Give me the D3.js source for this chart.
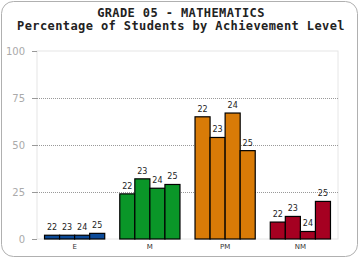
<!DOCTYPE html>
<html>
<head>
<meta charset="utf-8">
<script src="https://cdn.jsdelivr.net/npm/d3@7"></script>
<style>
  body { margin: 0; background: #fff; }
  svg { display: block; }
</style>
</head>
<body>
<svg width="360" height="260"></svg>
<script>
var levels = ['E', 'M', 'PM', 'NM'];
var years = ['22', '23', '24', '25'];
var levelColors = ['#0b4a98', '#0a9628', '#d97b07', '#a50021'];
var valuesE = [2, 2, 2, 3];
var valuesM = [24, 32, 27, 29];
var valuesPM = [65, 54, 67, 47];
var valuesNM = [9, 12, 4, 20];
var yTicks = [0, 25, 50, 75, 100];

var allValues = [valuesE, valuesM, valuesPM, valuesNM];

var svg = d3.select('svg'),
  margin = {top: 51, right: 22, bottom: 21, left: 37},
  width = svg.attr('width') - margin.left - margin.right,
  height = svg.attr('height') - margin.top - margin.bottom;

// frame
svg
  .append('rect')
  .attr('x', 1.5)
  .attr('y', 1.5)
  .attr('width', 356)
  .attr('height', 255)
  .attr('rx', 12)
  .attr('fill', '#fff')
  .attr('stroke', '#b0b0b0');

var titleFont = 'bold 12px "DejaVu Sans Mono", monospace';

svg
  .append('text')
  .attr('x', 181)
  .attr('y', 17)
  .attr('text-anchor', 'middle')
  .style('font', titleFont)
  .style('letter-spacing', '0.4px')
  .attr('fill', '#222')
  .text('GRADE 05 - MATHEMATICS');

svg
  .append('text')
  .attr('x', 181)
  .attr('y', 29.5)
  .attr('text-anchor', 'middle')
  .style('font', titleFont)
  .style('letter-spacing', '0.4px')
  .attr('fill', '#222')
  .text('Percentage of Students by Achievement Level');

var g = svg
  .append('g')
  .attr('transform', 'translate(' + margin.left + ',' + margin.top + ')');

var x0 = d3.scaleBand().domain(levels).range([0, width]).paddingInner(0.2).paddingOuter(0.1);
var x1 = d3.scaleBand().domain(years).range([0, x0.bandwidth()]);
var y = d3.scaleLinear().domain([0, 100]).range([height, 0]);

// plot frame
g
  .append('rect')
  .attr('width', width)
  .attr('height', height)
  .attr('fill', 'none')
  .attr('stroke', '#e6e6e6');

// grid
g
  .selectAll('.grid')
  .data(yTicks.filter(d => d > 0 && d < 100))
  .enter()
  .append('line')
  .attr('x1', 0)
  .attr('x2', width)
  .attr('y1', d => Math.round(y(d)) + 0.5)
  .attr('y2', d => Math.round(y(d)) + 0.5)
  .attr('stroke', '#999')
  .attr('stroke-dasharray', '1,1');

var yAxis = g
  .append('g')
  .call(d3.axisLeft(y).tickValues(yTicks).tickSize(5).tickPadding(7));
yAxis.select('.domain').remove();
yAxis.selectAll('line').attr('stroke', '#999');
yAxis
  .selectAll('text')
  .attr('fill', '#aaa')
  .style('font', '10px Verdana, "DejaVu Sans", sans-serif');

var xAxis = g
  .append('g')
  .attr('transform', 'translate(0,' + height + ')')
  .call(d3.axisBottom(x0).tickSize(0).tickPadding(5));
xAxis.select('.domain').remove();
xAxis
  .selectAll('text')
  .attr('fill', '#333')
  .style('font', '7px "DejaVu Sans", sans-serif');

var group = g
  .selectAll('.level')
  .data(levels)
  .enter()
  .append('g')
  .attr('class', 'level')
  .attr('transform', d => 'translate(' + x0(d) + ',0)');

group
  .selectAll('rect')
  .data((d, i) => allValues[i].map((v, j) => ({year: years[j], value: v, color: levelColors[i]})))
  .enter()
  .append('rect')
  .attr('x', d => x1(d.year))
  .attr('y', d => y(d.value))
  .attr('width', x1.bandwidth())
  .attr('height', d => height - y(d.value))
  .attr('fill', d => d.color)
  .attr('stroke', '#000')
  .attr('stroke-width', 1.2);

group
  .selectAll('.lbl')
  .data((d, i) => allValues[i].map((v, j) => ({year: years[j], value: v})))
  .enter()
  .append('text')
  .attr('class', 'lbl')
  .attr('x', d => x1(d.year) + x1.bandwidth() / 2)
  .attr('y', d => y(d.value) - 5)
  .attr('text-anchor', 'middle')
  .attr('fill', '#222')
  .style('font', '8px "DejaVu Sans", sans-serif')
  .text(d => d.year);
</script>
</body>
</html>
